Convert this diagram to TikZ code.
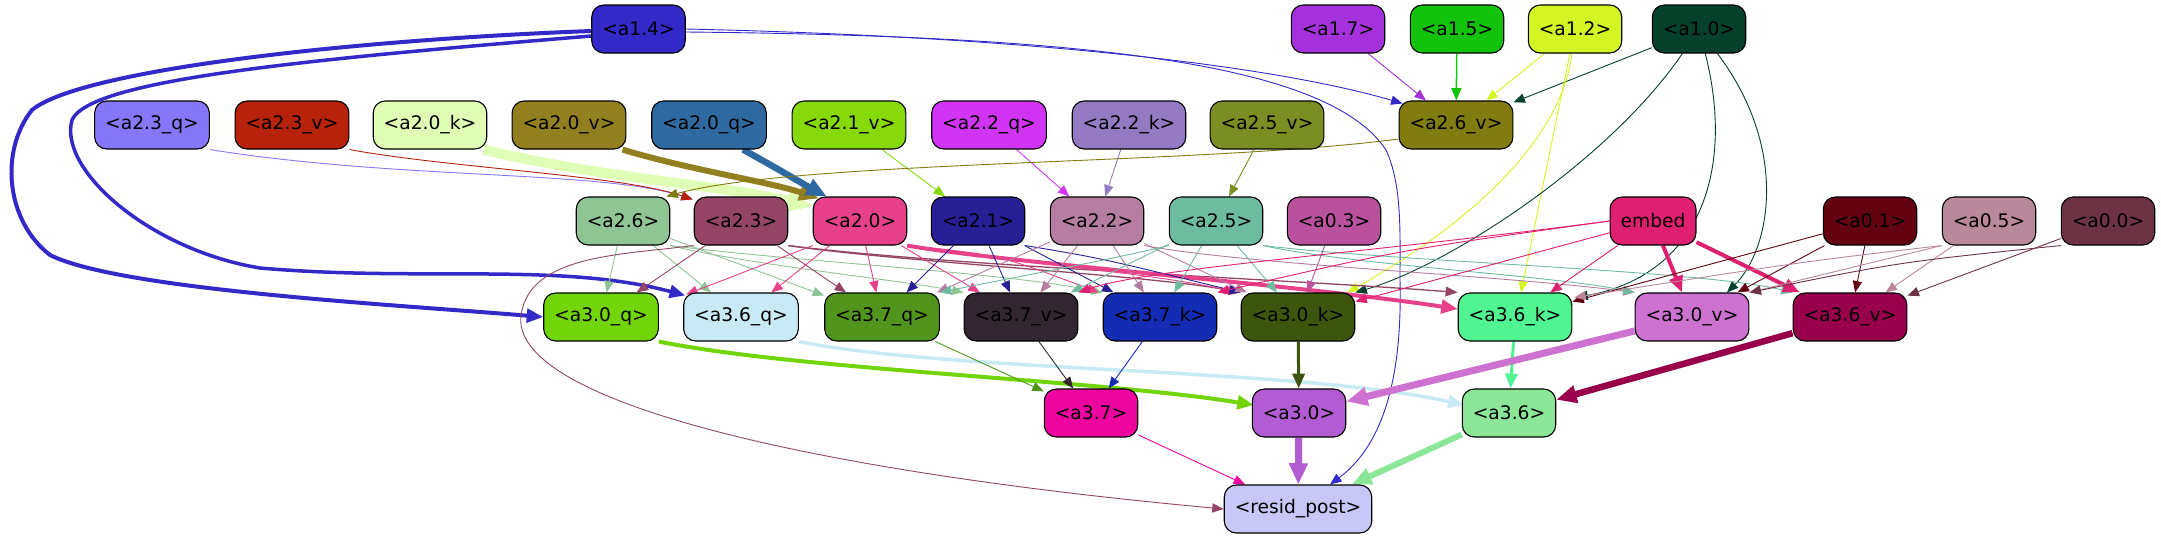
\documentclass[tikz,border=0pt]{standalone}
\usepackage{fontspec}
\setmainfont{DejaVu Sans}
\usetikzlibrary{arrows.meta,calc}
\pgfdeclarelayer{bg}
\pgfsetlayers{bg,main}
\definecolor{c14}{HTML}{3328C8}
\definecolor{c17}{HTML}{A431DC}
\definecolor{c15}{HTML}{12C20B}
\definecolor{c12}{HTML}{D4F423}
\definecolor{c10}{HTML}{05402B}
\definecolor{c23q}{HTML}{8676F8}
\definecolor{c23v}{HTML}{B6220A}
\definecolor{c20k}{HTML}{E0FDB5}
\definecolor{c20v}{HTML}{927F20}
\definecolor{c20q}{HTML}{2F69A1}
\definecolor{c21v}{HTML}{88D909}
\definecolor{c22q}{HTML}{D234F5}
\definecolor{c22k}{HTML}{9479C3}
\definecolor{c25v}{HTML}{7A8E23}
\definecolor{c26v}{HTML}{807C0F}
\definecolor{c26}{HTML}{8FC594}
\definecolor{c23}{HTML}{944565}
\definecolor{c20}{HTML}{E74289}
\definecolor{c21}{HTML}{261F96}
\definecolor{c22}{HTML}{B57D9F}
\definecolor{c25}{HTML}{6EBC9F}
\definecolor{c03}{HTML}{B9519E}
\definecolor{cem}{HTML}{DF1F6F}
\definecolor{c01}{HTML}{630210}
\definecolor{c05}{HTML}{BA889B}
\definecolor{c00}{HTML}{6D3344}
\definecolor{c30q}{HTML}{72D50A}
\definecolor{c36q}{HTML}{C8EAF4}
\definecolor{c37q}{HTML}{52951C}
\definecolor{c37v}{HTML}{322630}
\definecolor{c37k}{HTML}{142CB3}
\definecolor{c30k}{HTML}{3C560E}
\definecolor{c36k}{HTML}{50F592}
\definecolor{c30v}{HTML}{CD72D0}
\definecolor{c36v}{HTML}{99004B}
\definecolor{c37}{HTML}{EE05A0}
\definecolor{c30}{HTML}{B35BD2}
\definecolor{c36}{HTML}{8BE797}
\definecolor{cres}{HTML}{C8C8F8}
\begin{document}
\begin{tikzpicture}[x=1pt,y=-1pt,
  nd/.style={draw=black, line width=1.1pt, rounded corners=12pt, minimum height=48pt,
    minimum width=72pt, inner xsep=10.5pt, inner ysep=0pt, text=black,
    font=\fontsize{18.67}{22}\selectfont},
  ed/.style={line width=#1, -{Triangle[length=10pt 1.6, width=8pt 1.4]}},
  ed/.default=0.9pt]
\useasboundingbox (0,0) rectangle (2161,539);
% row 1
\node[nd, fill=c14] (a14) at (638.5,29) {<a1.4>};
\node[nd, fill=c17] (a17) at (1338,29) {<a1.7>};
\node[nd, fill=c15] (a15) at (1457,29) {<a1.5>};
\node[nd, fill=c12] (a12) at (1575,29) {<a1.2>};
\node[nd, fill=c10] (a10) at (1699,29) {<a1.0>};
% row 2
\node[nd, fill=c23q] (a23q) at (152,125) {<a2.3\_q>};
\node[nd, fill=c23v] (a23v) at (292,125) {<a2.3\_v>};
\node[nd, fill=c20k] (a20k) at (430,125) {<a2.0\_k>};
\node[nd, fill=c20v] (a20v) at (569,125) {<a2.0\_v>};
\node[nd, fill=c20q] (a20q) at (709,125) {<a2.0\_q>};
\node[nd, fill=c21v] (a21v) at (849,125) {<a2.1\_v>};
\node[nd, fill=c22q] (a22q) at (989,125) {<a2.2\_q>};
\node[nd, fill=c22k] (a22k) at (1129,125) {<a2.2\_k>};
\node[nd, fill=c25v] (a25v) at (1267,125) {<a2.5\_v>};
\node[nd, fill=c26v] (a26v) at (1456,125) {<a2.6\_v>};
% row 3
\node[nd, fill=c26] (a26) at (623,221) {<a2.6>};
\node[nd, fill=c23] (a23) at (741,221) {<a2.3>};
\node[nd, fill=c20] (a20) at (860,221) {<a2.0>};
\node[nd, fill=c21] (a21) at (978,221) {<a2.1>};
\node[nd, fill=c22] (a22) at (1097,221) {<a2.2>};
\node[nd, fill=c25] (a25) at (1216,221) {<a2.5>};
\node[nd, fill=c03] (a03) at (1334,221) {<a0.3>};
\node[nd, fill=cem] (emb) at (1653,221) {embed};
\node[nd, fill=c01] (a01) at (1870,221) {<a0.1>};
\node[nd, fill=c05] (a05) at (1989,221) {<a0.5>};
\node[nd, fill=c00] (a00) at (2108,221) {<a0.0>};
% row 4
\node[nd, fill=c30q] (a30q) at (601,317) {<a3.0\_q>};
\node[nd, fill=c36q] (a36q) at (741,317) {<a3.6\_q>};
\node[nd, fill=c37q] (a37q) at (882,317) {<a3.7\_q>};
\node[nd, fill=c37v] (a37v) at (1021,317) {<a3.7\_v>};
\node[nd, fill=c37k] (a37k) at (1160,317) {<a3.7\_k>};
\node[nd, fill=c30k] (a30k) at (1298,317) {<a3.0\_k>};
\node[nd, fill=c36k] (a36k) at (1515,317) {<a3.6\_k>};
\node[nd, fill=c30v] (a30v) at (1692,317) {<a3.0\_v>};
\node[nd, fill=c36v] (a36v) at (1850,317) {<a3.6\_v>};
% row 5
\node[nd, fill=c37] (a37) at (1091,413) {<a3.7>};
\node[nd, fill=c30] (a30) at (1299,413) {<a3.0>};
\node[nd, fill=c36] (a36) at (1509,413) {<a3.6>};
% row 6
\node[nd, fill=cres] (res) at (1298,509) {<resid\_post>};

\begin{pgfonlayer}{bg}
% row1 -> row2
\draw[ed, c14] (a14.east) .. controls (1000,36) and (1260,62) .. ($(a26v.north west)+(4,3)$);
\draw[ed, c17] (a17) -- (a26v);
\draw[ed=1.5pt, c15] (a15) -- (a26v);
\draw[ed, c12] (a12) -- (a26v);
\draw[ed, c10] (a10) -- (a26v);
% a1.4 long edges
\draw[ed=4pt, c14] ($(a14.west)+(0,2)$) .. controls (350,40) and (80,70) .. (32,110)
   .. controls (0,150) and (5,220) .. (50,255) .. controls (120,290) and (400,305) .. (a30q.west);
\draw[ed=3.5pt, c14] ($(a14.west)+(0,7)$) .. controls (300,60) and (90,80) .. (72,120)
   .. controls (58,170) and (150,250) .. (260,268) .. controls (420,282) and (560,262) .. ($(a36q.north west)+(2,3)$);
\draw[ed, c14] ($(a14.east)+(0,3)$) .. controls (1100,36) and (1330,65) .. (1386,150)
   .. controls (1402,185) and (1400,230) .. (1400,280)
   .. controls (1402,360) and (1390,440) .. ($(res.north)+(32,0)$);
% a1.2, a1.0 long edges
\draw[ed, c12] (a12) .. controls (1560,150) and (1450,235) .. ($(a30k.north east)+(-8,0)$);
\draw[ed, c12] (a12) -- ($(a36k.north)+(6,0)$);
\draw[ed, c10] (a10) .. controls (1610,160) and (1450,265) .. (a30k.north east);
\draw[ed, c10] (a10) .. controls (1735,170) and (1700,275) .. ($(a36k.north east)+(4,5)$);
\draw[ed, c10] (a10) .. controls (1790,150) and (1770,250) .. ($(a30v.north)+(35,0)$);
% row2 -> row3
\draw[ed, c23q] (a23q.south east) .. controls (400,180) and (600,170) .. ($(a23.north west)+(-1,3)$);
\draw[ed, c23v] (a23v.south east) .. controls (450,168) and (620,175) .. ($(a23.north west)+(-1,3)$);
\draw[ed=10pt, c20k] ($(a20k.south east)+(-4,0)$) .. controls (600,178) and (720,185) .. ($(a20.north west)+(0,10)$);
\draw[ed=6pt, c20v] ($(a20v.south east)+(-4,0)$) .. controls (690,170) and (770,182) .. ($(a20.north west)+(6,2)$);
\draw[ed=6.5pt, c20q] ($(a20q.south)+(34,0)$) .. controls (780,170) and (805,185) .. ($(a20.north west)+(14,0)$);
\draw[ed, c21v] (a21v) -- (a21);
\draw[ed, c22q] (a22q) -- (a22);
\draw[ed, c22k] (a22k) -- (a22);
\draw[ed, c25v] (a25v) -- (a25);
\draw[ed, c26v] ($(a26v.west)+(0,14)$) .. controls (1200,165) and (800,160) .. ($(a26.north east)+(-4,0)$);
% row3 -> row4 : a2.6
\draw[ed, c26] (a26) -- (a30q);
\draw[ed, c26] (a26) -- (a36q);
\draw[ed, c26] (a26) -- (a37q);
\draw[ed, c26] (a26.south east) .. controls (750,265) and (900,280) .. (a37v.north west);
\draw[ed, c26] (a26.south east) .. controls (800,262) and (1000,272) .. (a37k.north west);
% a2.3
\draw[ed, c23] (a23) -- (a30q);
\draw[ed, c23] (a23) -- (a37q);
\draw[ed=1.3pt, c23] (a23.south east) .. controls (900,262) and (1150,275) .. (a30k.north west);
\draw[ed=1.3pt, c23] (a23.south east) .. controls (950,266) and (1300,280) .. (a36k.north west);
\draw[ed, c23] (a23.south west) .. controls (620,255) and (530,255) .. (521,315)
   .. controls (510,400) and (800,470) .. (res.west);
% a2.0
\draw[ed, c20] (a20) -- (a36q);
\draw[ed, c20] (a20.south west) -- ($(a36q.north west)+(3,2)$);
\draw[ed, c20] (a20) -- (a37q);
\draw[ed, c20] (a20) -- (a37v);
\draw[ed, c20] (a20.south east) .. controls (1000,255) .. ($(a37k.north west)+(-4,0)$);
\draw[ed, c20] (a20.south east) .. controls (1000,262) and (1150,272) .. ($(a30k.north west)+(-4,0)$);
\draw[ed=4pt, c20] (a20.south east) .. controls (1000,262) and (1300,285) .. ($(a36k.west)+(0,-8)$);
% a2.1
\draw[ed, c21] (a21) -- (a37q);
\draw[ed, c21] (a21) -- (a37v);
\draw[ed, c21] (a21) -- (a37k);
\draw[ed, c21] (a21.south east) .. controls (1100,258) .. (a30k.north west);
% a2.2
\draw[ed, c22] (a22) -- (a37q);
\draw[ed, c22] (a22) -- (a37v);
\draw[ed, c22] (a22) -- (a37k);
\draw[ed, c22] (a22) -- (a30k);
\draw[ed, c22] (a22.south east) .. controls (1250,265) and (1500,275) .. (a30v.north west);
% a2.5
\draw[ed, c25] (a25.south west) .. controls (1100,262) and (1000,280) .. (a37q.north east);
\draw[ed, c25] (a25) -- (a37v);
\draw[ed, c25] (a25) -- (a37k);
\draw[ed, c25] (a25) -- (a30k);
\draw[ed, c25] (a25.south east) .. controls (1350,265) and (1550,275) .. (a30v.north west);
\draw[ed, c25] (a25.south east) .. controls (1400,262) and (1700,270) .. (a36v.north west);
% a0.3
\draw[ed, c03] (a03) -- (a30k);
% embed
\draw[ed, cem] (emb.west) .. controls (1350,255) and (1150,268) .. (a37v.north east);
\draw[ed, cem] (emb.west) .. controls (1400,250) .. (a37k.north east);
\draw[ed, cem] (emb) -- (a30k);
\draw[ed, cem] (emb) -- (a36k);
\draw[ed=4pt, cem] (emb) -- (a30v);
\draw[ed=4pt, cem] (emb) -- (a36v);
% a0.1, a0.5, a0.0
\draw[ed, c01] (a01) -- (a36k);
\draw[ed, c01] (a01) -- (a30v);
\draw[ed, c01] (a01) -- (a36v);
\draw[ed, c05] (a05.south west) .. controls (1800,262) .. ($(a36k.north east)+(2,5)$);
\draw[ed, c05] (a05.south west) -- (a30v.north east);
\draw[ed, c05] (a05) -- (a36v);
\draw[ed, c00] (a00.south west) .. controls (1900,262) .. (a30v.north east);
\draw[ed, c00] (a00) -- (a36v);
% row4 -> row5
\draw[ed=4pt, c30q] (a30q.south east) .. controls (800,370) and (1100,380) .. ($(a30.west)+(2,-8)$);
\draw[ed=3.5pt, c36q] (a36q.south east) .. controls (950,372) and (1300,368) .. ($(a36.west)+(2,-8)$);
\draw[ed, c37q] (a37q) -- (a37);
\draw[ed, c37v] (a37v) -- (a37);
\draw[ed, c37k] (a37k) -- (a37);
\draw[ed=3pt, c30k] (a30k) -- (a30);
\draw[ed=3pt, c36k] (a36k) -- (a36);
\draw[ed=7pt, c30v] (a30v) -- (a30);
\draw[ed=6.5pt, c36v] (a36v) -- (a36);
% row5 -> resid
\draw[ed, c37] (a37) -- (res);
\draw[ed=7pt, c30] (a30) -- (res);
\draw[ed=6pt, c36] (a36) -- (res);
\end{pgfonlayer}
\end{tikzpicture}
\end{document}
